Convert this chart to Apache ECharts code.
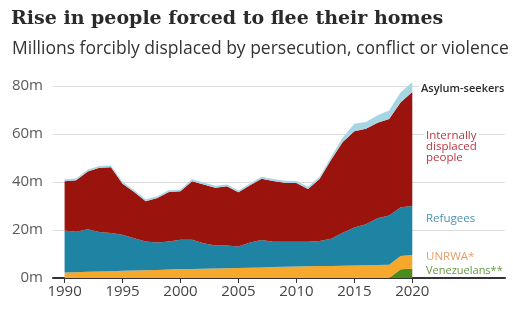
<!DOCTYPE html>
<html>
<head>
<meta charset="utf-8">
<script src="https://cdn.jsdelivr.net/npm/echarts@6/dist/echarts.min.js"></script>
<style>
  html, body { margin: 0; padding: 0; background: #fff; }
  #chart { width: 513px; height: 311px; }
</style>
</head>
<body>
<div id="chart"></div>
<script>
// years with data
const years = ['1990', '1991', '1992', '1993', '1994', '1995', '1996', '1997', '1998', '1999',
  '2000', '2001', '2002', '2003', '2004', '2005', '2006', '2007', '2008', '2009',
  '2010', '2011', '2012', '2013', '2014', '2015', '2016', '2017', '2018', '2019', '2020']
// empty slots either side so the plot sits like the original
const padBefore = ['1989']
const padAfter = ['2021', '2022', '2023', '2024', '2025', '2026', '2027', '2028']
const tickYears = ['1990', '1995', '2000', '2005', '2010', '2015', '2020']

// millions (stacked bottom -> top)
const venezuelans = [0, 0, 0, 0, 0, 0, 0, 0, 0, 0,
  0, 0, 0, 0, 0, 0, 0, 0, 0, 0,
  0, 0, 0, 0, 0, 0, 0, 0, 0, 3.6, 3.9]
const unrwa = [2.3, 2.4, 2.6, 2.7, 2.8, 3.0, 3.1, 3.2, 3.3, 3.5,
  3.7, 3.8, 3.9, 4.0, 4.1, 4.2, 4.3, 4.4, 4.6, 4.7,
  4.8, 4.9, 5.0, 5.0, 5.1, 5.2, 5.3, 5.4, 5.5, 5.6, 5.7]
const refugees = [17.5, 16.9, 17.7, 16.5, 15.9, 15.0, 13.5, 12.0, 11.5, 11.7,
  12.2, 12.1, 10.6, 9.5, 9.4, 8.9, 10.5, 11.4, 10.5, 10.4,
  10.3, 10.2, 10.4, 11.4, 13.8, 15.8, 17.1, 19.5, 20.5, 20.3, 20.4]
const idps = [20.5, 21.4, 24.1, 26.7, 27.4, 21.3, 19.2, 16.8, 18.5, 20.6,
  20.2, 24.4, 24.5, 24.1, 24.7, 22.6, 23.8, 25.6, 25.3, 24.6,
  24.5, 22.0, 25.9, 32.9, 37.8, 40.1, 39.8, 39.8, 40.3, 43.7, 47.5]
const asylum = [0.8, 0.8, 0.8, 0.8, 0.8, 0.8, 0.8, 0.8, 0.8, 0.8,
  0.8, 0.8, 0.8, 0.8, 0.8, 0.8, 0.8, 0.8, 0.8, 0.8,
  0.8, 0.9, 0.9, 1.2, 1.8, 3.2, 2.8, 3.1, 3.5, 4.2, 4.1]

const categories = padBefore.concat(years, padAfter)
const padded = arr => padBefore.map(() => null).concat(arr, padAfter.map(() => null))
const isTick = (i, label) => tickYears.includes(label)

const chart = echarts.init(document.getElementById('chart'))

const areaSeries = (name, data, color) => ({
  name,
  type: 'line',
  stack: 'total',
  data: padded(data),
  symbol: 'none',
  clip: false,
  lineStyle: { width: 0 },
  areaStyle: { color, opacity: 1 },
  itemStyle: { color }
})

// right-hand labels, white box so gridlines stop at the text
const label = (text, x, y, fill, font, extra) => ({
  type: 'text',
  z: 10,
  style: Object.assign({
    text, x, y, fill, font,
    textVerticalAlign: 'middle',
    backgroundColor: '#fff',
    padding: [0, 2]
  }, extra || {})
})

chart.setOption({
  animation: false,
  title: [{
    text: 'Rise in people forced to flee their homes',
    left: 6,
    top: 5,
    textStyle: { fontFamily: 'DejaVu Serif', fontWeight: 'bold', fontSize: 19, color: '#2a2a2a' }
  }, {
    text: 'Millions forcibly displaced by persecution, conflict or violence',
    left: 7,
    top: 35,
    textStyle: { fontFamily: 'Open Sans', fontWeight: 'normal', fontSize: 17.5, color: '#333' }
  }],
  grid: { left: 53, right: 8, top: 86, bottom: 33 },
  xAxis: {
    type: 'category',
    data: categories,
    boundaryGap: false,
    axisLine: { show: true, lineStyle: { color: '#333', width: 2 } },
    axisTick: { show: true, length: 5, interval: isTick, lineStyle: { color: '#333' } },
    axisLabel: {
      interval: isTick,
      color: '#444',
      fontFamily: 'Open Sans',
      fontSize: 15,
      margin: 6
    }
  },
  yAxis: {
    type: 'value',
    min: 0,
    max: 80,
    interval: 20,
    axisLine: { show: false },
    axisTick: { show: false },
    splitLine: { lineStyle: { color: '#dcdcdc', width: 1 } },
    axisLabel: {
      formatter: v => v + 'm',
      color: '#5a5a5a',
      fontFamily: 'Open Sans',
      fontSize: 15,
      margin: 10
    }
  },
  series: [
    areaSeries('Venezuelans**', venezuelans, '#4a8c1e'),
    areaSeries('UNRWA*', unrwa, '#f5a82b'),
    areaSeries('Refugees', refugees, '#1f83a3'),
    areaSeries('Internally displaced people', idps, '#9a130c'),
    areaSeries('Asylum-seekers', asylum, '#a6d5e4')
  ],
  graphic: [
    label('Asylum-seekers', 419, 89, '#2a2a2a', '600 11px "Open Sans"'),
    label('Internally\ndisplaced\npeople', 424, 130, '#bd3540', '11.5px "Open Sans"', { textVerticalAlign: 'top', lineHeight: 11 }),
    label('Refugees', 424, 219, '#4a90b6', '11.5px "Open Sans"'),
    label('UNRWA*', 424, 257, '#e99e68', '11.5px "Open Sans"'),
    label('Venezuelans**', 424, 271, '#639a42', '11px "Open Sans"')
  ]
})
</script>
</body>
</html>
